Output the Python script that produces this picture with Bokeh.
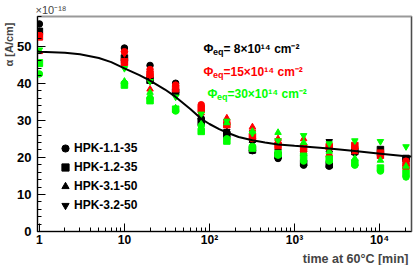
from bokeh.plotting import figure
from bokeh.models import Range1d, FixedTicker, SingleIntervalTicker, Label, Legend, LegendItem, Span, Title
from bokeh.embed import file_html
from bokeh.resources import INLINE

# ---------------- data ----------------
time_min = [1, 10, 20, 40, 80, 160, 320, 640, 1280, 2560, 5120, 10240, 20480]

# Phi_eq = 8e14 (black)
k_hpk11 = [56.0, 49.5, 44.8, 40.0, 30.5, 26.5, 21.8, 19.7, 17.9, 17.6, 21.3, 21.0, 19.5]
k_hpk12 = [54.0, 46.8, 40.8, 37.6, 29.5, 26.2, 22.0, 20.5, 18.5, 18.0, 21.6, 22.1, 19.7]
k_hpk31 = [53.5, 46.0, 42.0, 38.0, 31.0, 27.0, 24.5, 22.5, 21.0, 22.0, 22.0, 20.5, 19.2]
k_hpk32 = [53.0, 45.5, 41.5, 37.0, 30.0, 27.0, 24.0, 23.0, 21.0, 24.3, 21.5, 20.8, 19.5]
# Phi_eq = 15e14 (red)
r_hpk11 = [53.0, 48.5, 43.7, 39.5, 34.2, 29.0, 25.1, 23.7, 21.6, 20.3, 22.7, 20.6, 19.0]
r_hpk12 = [52.5, 45.8, 42.4, 38.5, 33.0, 28.8, 25.6, 23.2, 22.7, 22.9, 23.2, 21.0, 17.6]
r_hpk31 = [48.5, 45.3, 38.4, 33.0, 32.0, 30.6, 28.2, 25.0, 25.0, 23.0, 21.5, 20.2, 18.3]
r_hpk32 = [52.8, 48.0, 42.0, 39.0, 33.5, 29.5, 26.9, 24.5, 23.0, 22.5, 22.0, 21.5, 18.5]
# Phi_eq = 30e14 (green)
g_hpk11 = [42.5, 40.0, 36.0, 32.5, 28.5, 25.0, 22.9, 20.6, 19.0, 19.0, 17.9, 16.3, 14.7]
g_hpk12 = [45.5, 39.5, 35.3, 33.0, 27.0, 24.4, 22.5, 21.0, 20.3, 19.5, 18.5, 17.1, 15.7]
g_hpk31 = [45.0, 40.5, 37.5, 33.3, 29.0, 29.3, 27.0, 26.7, 24.0, 21.6, 19.7, 19.2, 17.6]
g_hpk32 = [49.0, 44.0, 40.5, 36.3, 31.7, 29.8, 26.5, 24.5, 25.9, 23.7, 24.5, 24.3, 22.9]

# fit curve
fit_t = [0.95, 1, 2, 3, 5, 7, 10, 15, 20, 30, 40, 60, 80, 100, 130, 160, 220, 320, 450,
         640, 1000, 1280, 2560, 5120, 10240, 20480, 23750]
fit_alpha = [48.6, 48.5, 48.2, 47.8, 46.8, 45.7, 44.0, 42.2, 40.7, 38.3, 36.3, 33.0, 30.4,
             29.0, 27.6, 26.7, 25.5, 24.6, 24.0, 23.5, 23.1, 22.9, 22.4, 21.7, 21.0, 20.3, 20.2]

sensor_labels = ["HPK-1.1-35", "HPK-1.2-35", "HPK-3.1-50", "HPK-3.2-50"]
fluence_texts = ["= 8\u00d710\u00b9\u2074 cm\u207b\u00b2", "=15\u00d710\u00b9\u2074 cm\u207b\u00b2",
                 "=30\u00d710\u00b9\u2074 cm\u207b\u00b2"]
x_tick_values = [1, 10, 100, 1000, 10000]
x_tick_labels = ["1", "10", "10\u00b2", "10\u00b3", "10\u2074"]

# ---------------- styling ----------------
FONT = "Liberation Sans"
XS, XE = 0.95, 23750
YS, YE = 0, 58
markers = ["circle", "square", "triangle", "inverted_triangle"]
colors = ["#000000", "#ff0000", "#00ff00"]
groups = [[k_hpk11, k_hpk12, k_hpk31, k_hpk32],
          [r_hpk11, r_hpk12, r_hpk31, r_hpk32],
          [g_hpk11, g_hpk12, g_hpk31, g_hpk32]]

p = figure(width=415, height=265, x_axis_type="log",
           x_range=Range1d(XS, XE), y_range=Range1d(YS, YE),
           output_backend="svg", toolbar_location=None,
           min_border_left=35, min_border_right=4, min_border_top=16, min_border_bottom=31)
p.title.visible = False
p.grid.visible = False
p.background_fill_color = "white"
p.border_fill_color = "white"
p.outline_line_color = "#999999"
p.outline_line_width = 2

minor_x = [m * 10 ** d for d in range(0, 5) for m in range(2, 10) if m * 10 ** d <= XE]
p.xaxis.ticker = FixedTicker(ticks=x_tick_values, minor_ticks=minor_x)
p.xaxis.major_label_overrides = {v: t for v, t in zip(x_tick_values, x_tick_labels)}
p.yaxis.ticker = SingleIntervalTicker(interval=10, num_minor_ticks=5)

for ax in (p.xaxis, p.yaxis):
    ax.major_tick_in = 8
    ax.major_tick_out = 0
    ax.minor_tick_in = 4
    ax.minor_tick_out = 0
    ax.axis_line_color = "black"
    ax.major_tick_line_color = "black"
    ax.minor_tick_line_color = "black"
    ax.major_label_text_font = FONT
    ax.major_label_text_font_style = "bold"
    ax.major_label_text_font_size = "13px"
    ax.major_label_text_color = "black"
p.xaxis.major_label_text_font_size = "12px"
p.xaxis.major_label_standoff = 1
p.yaxis.major_label_standoff = 6

p.add_layout(Span(location=XE, dimension="height", line_color="black", line_width=1))

# data points
legend_renderers = []
for ci, (color, series) in enumerate(zip(colors, groups)):
    for mk, vals in zip(markers, series):
        r = p.scatter(time_min, vals, marker=mk, size=6.5, fill_color=color, line_color=color)
        if ci == 0:
            legend_renderers.append(r)

# fit
p.line(fit_t, fit_alpha, line_color="black", line_width=2)

# legend (black markers)
items = [LegendItem(label=lab, renderers=[r]) for lab, r in zip(sensor_labels, legend_renderers)]
leg = Legend(items=items, location=(19, 17), border_line_color=None,
             background_fill_alpha=0, padding=0, margin=0, spacing=1,
             glyph_width=18, glyph_height=18, label_height=18, label_standoff=0,
             label_text_font=FONT, label_text_font_style="bold",
             label_text_font_size="12px", label_text_color="black")
p.add_layout(leg)


def lab(text, dx, dy, size, color="black", style="bold", align="left",
        baseline="alphabetic", anchor=(XS, YE)):
    p.add_layout(Label(x=anchor[0], y=anchor[1], x_offset=dx, y_offset=-dy, text=text,
                       text_font=FONT, text_font_size=size, text_font_style=style,
                       text_color=color, text_align=align, text_baseline=baseline))


# fluence texts
row_dy = [32, 55, 77]
row_dx = [166, 166, 170]
for txt, c, dx, dy in zip(fluence_texts, colors, row_dx, row_dy):
    lab("\u03a6", dx, dy, "12px", c)
    lab("eq", dx + 9.5, dy + 3, "9px", c)
    lab(txt, dx + 20, dy, "12px", c)

# axis titles (outside the frame -> titles in side panels)
p.add_layout(Title(text="\u03b1 [A/cm]", align="right", offset=6, standoff=0,
                   text_font=FONT, text_font_size="11px", text_font_style="bold"), "left")
p.add_layout(Title(text="\u00d710\u207b\u00b9\u2078", align="left", offset=-2, standoff=1,
                   text_font=FONT, text_font_size="11px", text_font_style="normal"), "above")
p.add_layout(Title(text="time at 60\u00b0C [min]", align="right", offset=3, standoff=0,
                   text_font=FONT, text_font_size="12.5px", text_font_style="bold"), "below")

open("out.html", "w").write(file_html(p, INLINE))
